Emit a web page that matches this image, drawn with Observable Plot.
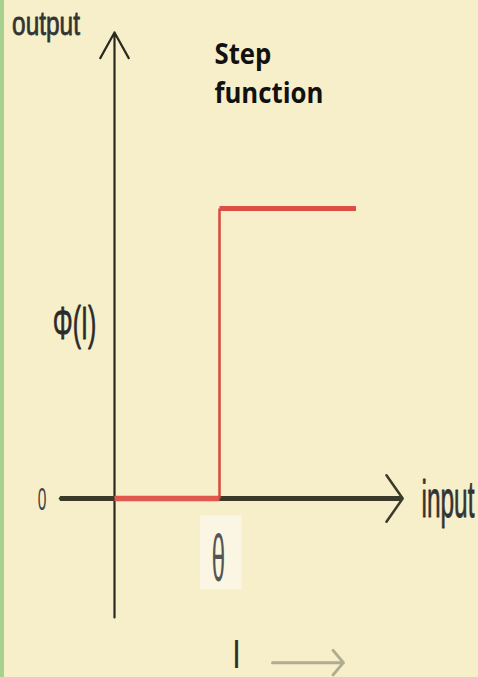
<!DOCTYPE html>
<html><head><meta charset="utf-8">
<script src="https://cdn.jsdelivr.net/npm/d3@7"></script>
<script src="https://cdn.jsdelivr.net/npm/@observablehq/plot@0.6"></script>
<style>
html,body{margin:0;padding:0;background:#f7efc9;}
#chart svg{display:block;background:#f7efc9;box-shadow:inset 4px 0 0 #a9d18e;}
</style></head><body><div id="chart"></div>
<script>
// ---- data ----
const theta = 1;                 // threshold on the input axis
const stepInputs = [0, 1, 1, 2.3];   // input values along the step curve
const stepOutputs = [0, 0, 1, 1];    // output values along the step curve
const titleLines = ["Step", "function"];
const axisLabels = ["output", "input"];
const zeroLabel = "0";
const phiLabel = "Φ(I)";
const thetaLabel = "θ";
const inputSymbol = "I";

const lowSegment = [{x1: stepInputs[0], x2: stepInputs[1], y: stepOutputs[0]}];
const riseSegment = [{x: stepInputs[1], y1: stepOutputs[1], y2: stepOutputs[2]}];
const highSegment = [{x1: stepInputs[2], x2: stepInputs[3], y: stepOutputs[3]}];

const F = "'Liberation Sans',Arial,sans-serif";
const one = [{}];

const plot = Plot.plot({
  width: 478, height: 677,
  x: {domain: [0, 1], range: [114, 219], axis: null},
  y: {domain: [0, 1], range: [498, 208], axis: null},
  marks: [
    // theta highlight box
    Plot.rect(one, {x1: theta - 0.18, x2: theta + 0.215, y1: -0.06, y2: -0.315, fill: "#faf6e3"}),
    // vertical (output) axis
    Plot.arrow(one, {x1: 0, x2: 0, y1: -0.41, y2: 1.607, stroke: "#2a2922", strokeWidth: 2.2, headLength: 20, headAngle: 58}),
    // horizontal (input) axis
    Plot.arrow(one, {x1: -0.52, x2: 2.745, y1: 0, y2: 0, stroke: "#3b3a2a", strokeWidth: 2.5, headLength: 17, headAngle: 110}),
    Plot.link(one, {x1: -0.52, x2: 2.72, y1: 0, y2: 0, stroke: "#3b3a2a", strokeWidth: 5}),
    // step function
    Plot.link(lowSegment, {x1: "x1", x2: "x2", y1: "y", y2: "y", stroke: "#e0574d", strokeWidth: 5.5}),
    Plot.link(riseSegment, {x1: "x", x2: "x", y1: "y1", y2: "y2", stroke: "#d9473e", strokeWidth: 2.5}),
    Plot.link(highSegment, {x1: "x1", x2: "x2", y1: "y", y2: "y", stroke: "#dc4d44", strokeWidth: 5}),
    // labels
    Plot.text(one, {x: -0.652, y: 1.633, text: () => axisLabels[0], fontSize: 33, fontFamily: F, fill: "#333", stroke: "#333", strokeWidth: 0.8}),
    Plot.text(one, {x: 2.924, y: -0.008, text: () => axisLabels[1], textAnchor: "start", fontSize: 52, fontFamily: F, fill: "#333", stroke: "#333", strokeWidth: 0.8}),
    Plot.text(one, {x: -0.690, y: -0.007, text: () => zeroLabel, fontSize: 31, fontFamily: F, fill: "#444"}),
    Plot.text(one, {x: -0.381, y: 0.603, text: () => phiLabel, fontSize: 47, fontFamily: F, fill: "#2a2a2a", stroke: "#2a2a2a", strokeWidth: 0.8}),
    Plot.text(one, {x: 0.952, y: 1.529, text: () => titleLines[0], textAnchor: "start", fontSize: 28, fontWeight: "bold", fontFamily: "'Open Sans',sans-serif", fill: "#111"}),
    Plot.text(one, {x: 0.952, y: 1.394, text: () => titleLines[1], textAnchor: "start", fontSize: 28, fontWeight: "bold", fontFamily: "'Open Sans',sans-serif", fill: "#111"}),
    Plot.text(one, {x: theta - 0.01, y: -0.21, text: () => thetaLabel, fontSize: 32, fontFamily: F, fill: "#555"}),
    Plot.text(one, {x: 1.162, y: -0.538, text: () => inputSymbol, fontSize: 34, fontFamily: F, fill: "#2f2f25"}),
    Plot.arrow(one, {x1: 1.505, x2: 2.18, y1: -0.566, y2: -0.566, stroke: "#b1ab92", strokeWidth: 3, headLength: 8, headAngle: 100})
  ]
});
// condense / stretch the labels like the reference's narrow lettering
const squeeze = new Map([
  [axisLabels[0], [0.74, 1]], [axisLabels[1], [0.47, 1]], [zeroLabel, [0.5, 1]],
  [phiLabel, [0.53, 1]], [titleLines[0], [0.92, 1]], [titleLines[1], [0.92, 1]],
  [thetaLabel, [0.75, 2.1]], [inputSymbol, [0.9, 1.2]]
]);
plot.querySelectorAll("text").forEach(t => {
  const s = squeeze.get(t.textContent);
  if (!s) return;
  let tr = t.getAttribute("transform");
  if (!tr) {
    const x = +t.getAttribute("x") || 0, y = +t.getAttribute("y") || 0;
    t.removeAttribute("x"); t.removeAttribute("y");
    tr = `translate(${x},${y})`;
  }
  t.setAttribute("transform", `${tr} scale(${s[0]},${s[1]})`);
});
document.getElementById("chart").appendChild(plot);
</script></body></html>
